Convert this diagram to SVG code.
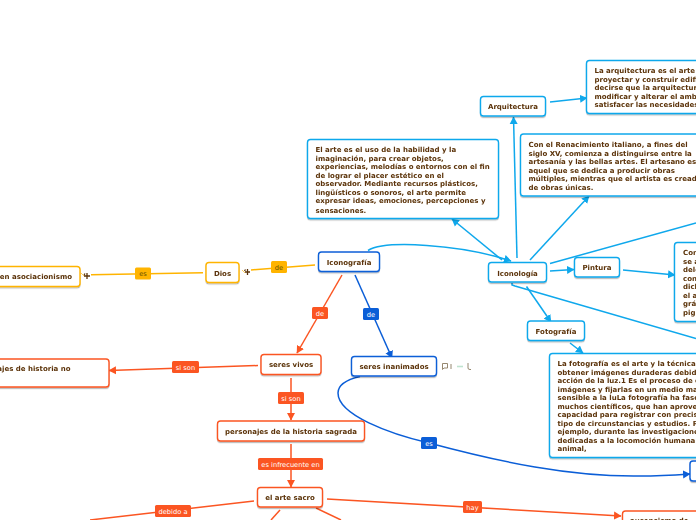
<svg xmlns="http://www.w3.org/2000/svg" width="696" height="520" viewBox="0 0 696 520">
<style>
text{font-family:"DejaVu Sans",Verdana,sans-serif}
.n rect{fill:#fff;stroke-width:1.4}
.t{font-size:7px;font-weight:700;fill:#5b3309}
.m{text-anchor:middle}
.e{text-anchor:end}
.lab{font-size:6.7px;fill:#fff;text-anchor:middle}
.dk{fill:#6b5200}
.c{fill:none;stroke-width:1.5}
.sb{stroke:#0fa8ec}.so{stroke:#fb5522}.sd{stroke:#0b5ed7}.sy{stroke:#ffb400}
.ic{fill:none;stroke:#8a7a60;stroke-width:.9}
</style>
<defs>
<filter id="s" x="-10%" y="-10%" width="120%" height="130%"><feDropShadow dx="0" dy="1.2" stdDeviation="0.7" flood-color="#000" flood-opacity="0.3"/></filter>
<marker id="ab" markerWidth="9" markerHeight="9" refX="7" refY="4.500" orient="auto" markerUnits="userSpaceOnUse"><path d="M0,0.500L7.500,4.500L0,8.500Z" fill="#0fa8ec"/></marker>
<marker id="ao" markerWidth="9" markerHeight="9" refX="7" refY="4.500" orient="auto" markerUnits="userSpaceOnUse"><path d="M0,0.500L7.500,4.500L0,8.500Z" fill="#fb5522"/></marker>
<marker id="ad" markerWidth="9" markerHeight="9" refX="7" refY="4.500" orient="auto" markerUnits="userSpaceOnUse"><path d="M0,0.500L7.500,4.500L0,8.500Z" fill="#0b5ed7"/></marker>
</defs>
<g id="connectors">
<path class="c sy" d="M91 274.800L203 272.800"/>
<path class="c sy" d="M251 270L315 265"/>
<path class="c so" d="M342 275L297 353" marker-end="url(#ao)"/>
<path class="c sd" d="M355 275L392 358" marker-end="url(#ad)"/>
<path class="c so" d="M258 365.500L109 370.500" marker-end="url(#ao)"/>
<path class="c so" d="M291 378V420" marker-end="url(#ao)"/>
<path class="c so" d="M291 444V487" marker-end="url(#ao)"/>
<path class="c so" d="M254 501L90 520"/>
<path class="c so" d="M280 510L271 520"/>
<path class="c so" d="M316 508L341 520"/>
<path class="c so" d="M327 499L621 516" marker-end="url(#ao)"/>
<path class="c sd" d="M360 376.500C345 380 338 385 338 393C338 415 390 434 429 443C500 462 570 477 640 476C660 476 675 475 690 474" marker-end="url(#ad)"/>
<path class="c sb" d="M368 250.500C385 240 460 244 511 261" marker-end="url(#ab)"/>
<path class="c sb" d="M502 260L452 219" marker-end="url(#ab)"/>
<path class="c sb" d="M517 258L513.500 117" marker-end="url(#ab)"/>
<path class="c sb" d="M530 260L589 196" marker-end="url(#ab)"/>
<path class="c sb" d="M550 263.500L696 223"/>
<path class="c sb" d="M550 271L574 269.500" marker-end="url(#ab)"/>
<path class="c sb" d="M526.500 286.500L551 322" marker-end="url(#ab)"/>
<path class="c sb" d="M512 283V285L515 286L696 338.500"/>
<path class="c sb" d="M570 343L583 353" marker-end="url(#ab)"/>
<path class="c sb" d="M623 270L675 275" marker-end="url(#ab)"/>
<path class="c sb" d="M550 102L587 98" marker-end="url(#ab)"/>
</g>
<g id="labels">
<rect x="135" y="267.500" width="16" height="12" rx="1.500" fill="#ffb400"/><text class="lab dk" style="fill:#6b5200" x="143" y="276">es</text>
<rect x="271" y="261" width="16" height="12" rx="1.500" fill="#ffb400"/><text class="lab dk" style="fill:#6b5200" x="279" y="270">de</text>
<rect x="312" y="307" width="16" height="12" rx="1.500" fill="#fb5522"/><text class="lab" x="320" y="316">de</text>
<rect x="363" y="308" width="16" height="12" rx="1.500" fill="#0b5ed7"/><text class="lab" x="371" y="317">de</text>
<rect x="172" y="361" width="27" height="12" rx="1.500" fill="#fb5522"/><text class="lab" x="185.500" y="370">si son</text>
<rect x="278" y="392" width="26" height="12" rx="1.500" fill="#fb5522"/><text class="lab" x="291" y="400.500">si son</text>
<rect x="258" y="458" width="65" height="12" rx="1.500" fill="#fb5522"/><text class="lab" x="290.500" y="467">es infrecuente en</text>
<rect x="155" y="505" width="36" height="12" rx="1.500" fill="#fb5522"/><text class="lab" x="173" y="514">debido a</text>
<rect x="463" y="501" width="19" height="12" rx="1.500" fill="#fb5522"/><text class="lab" x="472.500" y="510">hay</text>
<rect x="421" y="437" width="16" height="12" rx="1.500" fill="#0b5ed7"/><text class="lab" x="429" y="446">es</text>
</g>
<g id="icons">
<path d="M81 273L84 276M242 270L245 273" stroke="#ffd060" stroke-width="1" fill="none"/>
<path d="M84 276H90M87 273V279M85 273.500L84 275" stroke="#5b3309" stroke-width="1.300" fill="none"/>
<path d="M245 272H250M247.500 269V275M245.500 269.500L244.500 271" stroke="#5b3309" stroke-width="1.300" fill="none"/>
<path class="ic" d="M442.500 363.500H447.500V368H444L442.500 369.500Z"/>
<path class="ic" d="M451 364V369"/>
<path d="M457 366.500H463" stroke="#bfe3d0" stroke-width="1.600" fill="none"/>
<path class="ic" d="M468 363V368Q468 369.500 470 369.500H471"/>
</g>
<g id="n-asociacionismo" class="n" filter="url(#s)"><rect x="-30" y="266.500" width="110" height="20" rx="3" stroke="#ffb400"/><text class="t e" x="72" y="279">en asociacionismo</text></g>
<g id="n-dios" class="n" filter="url(#s)"><rect x="206" y="262.500" width="33" height="20" rx="3" stroke="#ffb400"/><text class="t m" x="222.500" y="275.500">Dios</text></g>
<g id="n-iconografia" class="n" filter="url(#s)"><rect x="318.500" y="252" width="61" height="19.500" rx="3" stroke="#0b5ed7"/><text class="t m" x="349" y="265">Iconografía</text></g>
<g id="n-vivos" class="n" filter="url(#s)"><rect x="261" y="354.500" width="60" height="20" rx="3" stroke="#fb5522"/><text class="t m" x="291" y="367">seres vivos</text></g>
<g id="n-personajes-no" class="n" filter="url(#s)"><rect x="-30" y="359" width="139" height="28" rx="3" stroke="#fb5522"/><text class="t e" x="70.500" y="371">ajes de historia no</text></g>
<g id="n-inanimados" class="n" filter="url(#s)"><rect x="351.500" y="356.500" width="85" height="19.500" rx="3" stroke="#0b5ed7"/><text class="t m" x="394" y="369">seres inanimados</text></g>
<g id="n-sagrada" class="n" filter="url(#s)"><rect x="217.500" y="421" width="147" height="20" rx="3" stroke="#fb5522"/><text class="t m" x="291" y="434">personajes de la historia sagrada</text></g>
<g id="n-sacro" class="n" filter="url(#s)"><rect x="257.500" y="487.500" width="65" height="19.500" rx="3" stroke="#fb5522"/><text class="t m" x="290" y="500">el arte sacro</text></g>
<g id="n-arte" class="n" filter="url(#s)"><rect x="307.500" y="139.500" width="191" height="79" rx="3" stroke="#0fa8ec"/>
<text class="t" x="315.500" y="152">El arte es el uso de la habilidad y la</text><text class="t" x="315.500" y="160.500">imaginación, para crear objetos,</text><text class="t" x="315.500" y="169">experiencias, melodías o entornos con el fin</text><text class="t" x="315.500" y="178">de lograr el placer estético en el</text><text class="t" x="315.500" y="186">observador. Mediante recursos plásticos,</text><text class="t" x="315.500" y="195">lingüísticos o sonoros, el arte permite</text><text class="t" x="315.500" y="203">expresar ideas, emociones, percepciones y</text><text class="t" x="315.500" y="212.500">sensaciones.</text></g>
<g id="n-renacimiento" class="n" filter="url(#s)"><rect x="520.500" y="134" width="200" height="62" rx="3" stroke="#0fa8ec"/>
<text class="t" x="528.500" y="147">Con el Renacimiento italiano, a fines del</text><text class="t" x="528.500" y="155.500">siglo XV, comienza a distinguirse entre la</text><text class="t" x="528.500" y="164">artesanía y las bellas artes. El artesano es</text><text class="t" x="528.500" y="172.500">aquel que se dedica a producir obras</text><text class="t" x="528.500" y="181">múltiples, mientras que el artista es cread</text><text class="t" x="528.500" y="189.500">de obras únicas.</text></g>
<g id="n-arquitectura" class="n" filter="url(#s)"><rect x="480.500" y="96.500" width="65" height="19.500" rx="3" stroke="#0fa8ec"/><text class="t m" x="513" y="109">Arquitectura</text></g>
<g id="n-arq-text" class="n" filter="url(#s)"><rect x="586.500" y="60.500" width="140" height="53" rx="3" stroke="#0fa8ec"/>
<text class="t" x="594.500" y="73">La arquitectura es el arte</text><text class="t" x="594.500" y="81.500">proyectar y construir edifi</text><text class="t" x="594.500" y="90">decirse que la arquitectur</text><text class="t" x="594.500" y="98.500">modificar y alterar el amb</text><text class="t" x="594.500" y="107">satisfacer las necesidades</text></g>
<g id="n-iconologia" class="n" filter="url(#s)"><rect x="488.500" y="262.500" width="58" height="19.500" rx="3" stroke="#0fa8ec"/><text class="t m" x="517.500" y="275.500">Iconología</text></g>
<g id="n-pintura" class="n" filter="url(#s)"><rect x="574.500" y="257.500" width="45" height="19.500" rx="3" stroke="#0fa8ec"/><text class="t m" x="597" y="270">Pintura</text></g>
<g id="n-pint-text" class="n" filter="url(#s)"><rect x="674.500" y="242.500" width="60" height="79" rx="3" stroke="#0fa8ec"/>
<text class="t" x="683" y="255">Con</text><text class="t" x="683" y="263.500">se a</text><text class="t" x="683" y="272">delg</text><text class="t" x="683" y="280.500">con</text><text class="t" x="683" y="289">dich</text><text class="t" x="683" y="297.500">el a</text><text class="t" x="683" y="306">gráf</text><text class="t" x="683" y="314.500">pig</text></g>
<g id="n-fotografia" class="n" filter="url(#s)"><rect x="527.500" y="321" width="57" height="19.500" rx="3" stroke="#0fa8ec"/><text class="t m" x="556" y="334">Fotografía</text></g>
<g id="n-foto-text" class="n" filter="url(#s)"><rect x="549.500" y="353.500" width="190" height="104" rx="3" stroke="#0fa8ec"/>
<text class="t" x="557.500" y="366">La fotografía es el arte y la técnica</text><text class="t" x="557.500" y="375">obtener imágenes duraderas debid</text><text class="t" x="557.500" y="383">acción de la luz.1 Es el proceso de c</text><text class="t" x="557.500" y="392">imágenes y fijarlas en un medio ma</text><text class="t" x="557.500" y="400">sensible a la luLa fotografía ha fasc</text><text class="t" x="557.500" y="409">muchos científicos, que han aprove</text><text class="t" x="557.500" y="417">capacidad para registrar con precis</text><text class="t" x="557.500" y="426">tipo de circunstancias y estudios. P</text><text class="t" x="557.500" y="434">ejemplo, durante las investigacione</text><text class="t" x="557.500" y="443">dedicadas a la locomoción humana</text><text class="t" x="557.500" y="451">animal,</text></g>
<g id="n-bottom-right" class="n" filter="url(#s)"><rect x="690" y="461" width="40" height="20" rx="3" stroke="#0b5ed7"/></g>
<g id="n-ausencia" class="n" filter="url(#s)"><rect x="622.500" y="511" width="100" height="20" rx="3" stroke="#fb5522"/><text class="t" x="630" y="523">ausencismo de</text></g>
</svg>
